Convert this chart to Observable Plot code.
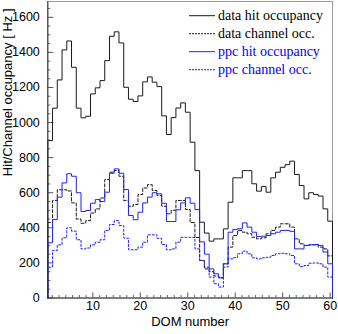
<!DOCTYPE html>
<html><head><meta charset="utf-8">
<script src="https://cdn.jsdelivr.net/npm/d3@7"></script>
<script src="https://cdn.jsdelivr.net/npm/@observablehq/plot@0.6"></script>
<style>
html,body{margin:0;padding:0;background:#fff;}
#chart{position:relative;width:338px;height:334px;}
</style></head><body><div id="chart"></div>
<script>
// DOM numbers (bin centres)
const doms = d3.range(1, 61);

// data hit occupancy [Hz]
const dataHit = [897,1082,1243,1414,1465,1315,1082,1027,1036,1163,1198,1239,1353,1492,1517,1454,1201,1133,1120,1152,
  1232,1260,1230,1205,1038,932,1028,1083,1112,1059,888,726,432,370,324,337,337,394,546,685,
  685,726,726,651,609,635,603,685,717,745,760,780,704,641,565,600,590,581,508,438];
// data channel occupancy [Hz]
const dataChannel = [430,556,617,617,610,542,450,426,441,484,508,570,675,717,727,694,555,523,533,590,
  627,646,613,584,523,480,500,556,556,505,430,345,214,166,150,125,115,195,290,356,
  385,375,366,346,337,343,366,385,404,423,423,404,337,309,299,303,303,290,280,240];
// ppc hit occupancy [Hz]
const ppcHit = [315,447,575,656,708,694,600,493,499,540,561,550,603,711,736,711,618,470,446,489,
  542,575,600,594,540,436,436,503,542,571,540,504,320,250,166,138,115,195,375,390,
  395,428,404,375,350,352,356,366,375,385,385,380,280,280,300,303,305,300,262,195];
// ppc channel occupancy [Hz]
const ppcChannel = [176,271,303,343,400,381,332,280,285,303,318,332,385,419,441,413,341,275,275,290,
  318,360,360,340,305,275,280,318,346,346,345,280,214,176,119,81,62,176,223,230,
  252,267,252,229,223,229,232,242,252,255,252,242,195,179,185,198,200,195,176,119];

const xTicks = [10,20,30,40,50,60];
const yTicks = [0,200,400,600,800,1000,1200,1400,1600];
const legendLabels = ["data hit occupancy","data channel occ.","ppc hit occupancy","ppc channel occ."];

const W = 338, H = 334, mL = 47.3, mR = 6, mT = 1, mB = 36.5;
const plotW = W - mL - mR, plotH = H - mT - mB;
const xDomain = [0.5, 60.5], yDomain = [0, 1690];

const xMinor = d3.range(0, 61, 10/7).filter(v => v > xDomain[0] && v < xDomain[1] && Math.abs(v/10 - Math.round(v/10)) > 1e-6);
const yMinor = d3.range(0, 1690, 50).filter(v => v % 200 !== 0);

function outline(values) {
  const pts = [{x: doms[0] - 0.5, y: 0}];
  values.forEach((v, i) => pts.push({x: doms[i] - 0.5, y: v}));
  const last = doms[doms.length - 1] + 0.5;
  pts.push({x: last, y: values[values.length - 1]});
  pts.push({x: last, y: 0});
  return pts;
}

const styles = [
  {stroke: "#1a1a1a", dash: null},
  {stroke: "#1a1a1a", dash: "3,2"},
  {stroke: "#1f1fff", dash: null},
  {stroke: "#1f1fff", dash: "2,2"}
];
const series = [dataHit, dataChannel, ppcHit, ppcChannel];

const chart = Plot.plot({
  width: W, height: H,
  marginLeft: mL, marginRight: mR, marginTop: mT, marginBottom: mB,
  x: {domain: xDomain},
  y: {domain: yDomain},
  style: {fontFamily: "'Liberation Sans', Arial, sans-serif", fontSize: "13px", color: "#000", background: "#fff"},
  marks: [
    Plot.frame({stroke: "#9a9a9a"}),
    Plot.tickX(xMinor, {x: d => d, stroke: "#666", insetTop: plotH - 2.5}),
    Plot.tickX(xTicks, {x: d => d, stroke: "#555", insetTop: plotH - 5}),
    Plot.tickY(yMinor, {y: d => d, stroke: "#666", insetRight: plotW - 3}),
    Plot.tickY(yTicks, {y: d => d, stroke: "#555", insetRight: plotW - 6}),
    Plot.axisX(xTicks, {tickSize: 0, tickPadding: 3, label: null, fontSize: 12.5, tickFormat: d => String(d)}),
    Plot.axisY(yTicks, {tickSize: 0, tickPadding: 8, label: null, fontSize: 12.5, tickFormat: d => String(d)}),
    Plot.text(["DOM number"], {frameAnchor: "bottom", dy: 27.5, fontSize: 13}),
    Plot.text(["Hit/Channel occupancy [ Hz ]"], {frameAnchor: "top-left", rotate: -90, textAnchor: "end", dx: -45, dy: 7, fontSize: 13, style: "letter-spacing:1.5px"}),
    ...series.map((s, i) => Plot.line(outline(s), {x: "x", y: "y", curve: "step-after", stroke: styles[i].stroke, strokeWidth: 1, strokeDasharray: styles[i].dash})),
    Plot.ruleX([xDomain[0]], {stroke: "#333"}),
    Plot.ruleY([yDomain[0]], {stroke: "#333"})
  ]
});
document.getElementById("chart").appendChild(chart);

// legend (inside the frame, top right)
const svg = d3.select(chart);
const lg = svg.append("g")
  .attr("font-family", "'Liberation Serif', 'Times New Roman', serif")
  .attr("font-size", 14)
  .attr("text-anchor", "start");
legendLabels.forEach((t, i) => {
  const y = 15.7 + i * 18;
  lg.append("line").attr("x1", 189).attr("x2", 215).attr("y1", y).attr("y2", y)
    .attr("stroke", styles[i].stroke).attr("stroke-width", 1)
    .attr("stroke-dasharray", styles[i].dash ? "2,1" : null);
  lg.append("text").attr("x", 218).attr("y", y + 4).attr("text-anchor", "start")
    .attr("fill", i < 2 ? "#000" : "#0000ff").text(t);
});
</script>
</body></html>
